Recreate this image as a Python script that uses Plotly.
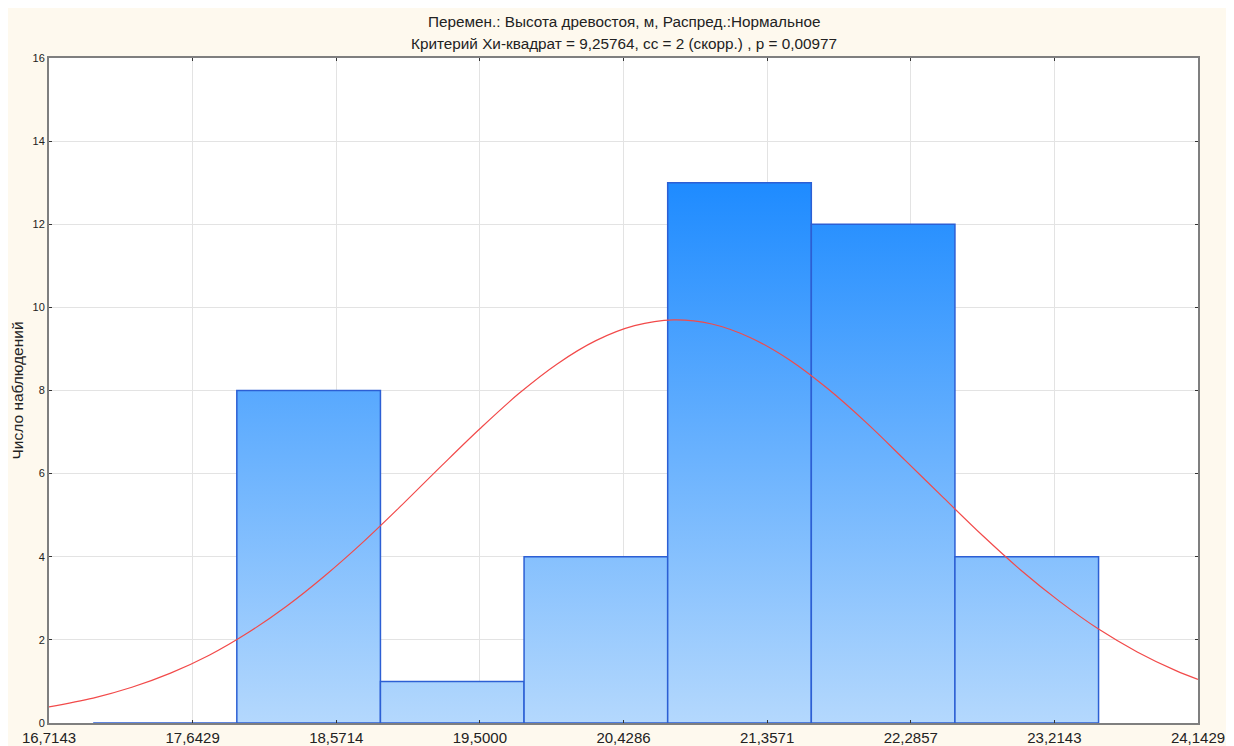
import plotly.graph_objects as go

# ---- data ----
bin_left = [17.0, 17.9286, 18.8571, 19.7857, 20.7143, 21.6429, 22.5714]
bin_width = 0.92857
counts = [0, 8, 1, 4, 13, 12, 4]

curve_x = [16.7143, 17.0, 17.25, 17.5, 17.75, 18.0, 18.25, 18.5, 18.75, 19.0,
           19.25, 19.5, 19.75, 20.0, 20.25, 20.5, 20.75, 21.0, 21.25, 21.5,
           21.75, 22.0, 22.25, 22.5, 22.75, 23.0, 23.25, 23.5, 23.75, 24.0, 24.1429]
curve_y = [0.39, 0.60, 0.86, 1.20, 1.63, 2.17, 2.81, 3.55, 4.37, 5.26,
           6.18, 7.08, 7.92, 8.64, 9.20, 9.56, 9.70, 9.60, 9.27, 8.74,
           8.04, 7.22, 6.32, 5.41, 4.51, 3.67, 2.92, 2.26, 1.71, 1.26, 1.05]

x_ticks = [16.7143, 17.6429, 18.5714, 19.5000, 20.4286, 21.3571, 22.2857, 23.2143, 24.1429]
x_tick_text = ["16,7143", "17,6429", "18,5714", "19,5000", "20,4286", "21,3571",
               "22,2857", "23,2143", "24,1429"]

title1 = "Перемен.: Высота древостоя, м, Распред.:Нормальное"
title2 = "Критерий Хи-квадрат = 9,25764, сс = 2 (скорр.) , p = 0,00977"
y_title = "Число наблюдений"

FONT = "Liberation Sans, Arial, sans-serif"
W, H = 1234, 746
L, R, T, B = 49, 36, 58, 23

fig = go.Figure()

top = max(counts)
for left, c in zip(bin_left, counts):
    right = left + bin_width
    fig.add_trace(go.Scatter(
        x=[left, left, right, right, left],
        y=[0, c, c, 0, 0],
        mode="lines",
        fill="toself",
        fillgradient=dict(type="vertical", start=0, stop=top,
                          colorscale=[[0, "#B4D8FD"], [1, "#1E8BFF"]]),
        line=dict(color="#2C5FD4", width=1.5),
        hoverinfo="skip",
        showlegend=False,
    ))

fig.add_trace(go.Scatter(
    x=curve_x, y=curve_y, mode="lines",
    line=dict(color="#F24A4A", width=1.2, shape="spline"),
    hoverinfo="skip", showlegend=False,
))

pw = W - L - R
ph = H - T - B
fig.add_shape(type="rect", xref="paper", yref="paper",
              x0=(8 - L) / pw, x1=(1226 - L) / pw,
              y0=-(B + 5) / ph, y1=1 + (T - 8) / ph,
              fillcolor="#FEF9EE", line=dict(width=0), layer="below")
fig.add_shape(type="rect", xref="paper", yref="paper",
              x0=0, x1=1, y0=0, y1=1,
              fillcolor="white", line=dict(width=0), layer="below")

fig.add_annotation(text=title1, xref="paper", yref="paper", x=0.5, y=1,
                   xanchor="center", yanchor="middle", yshift=37, showarrow=False,
                   font=dict(family=FONT, size=15.3, color="#222222"))
fig.add_annotation(text=title2, xref="paper", yref="paper", x=0.5, y=1,
                   xanchor="center", yanchor="middle", yshift=15, showarrow=False,
                   font=dict(family=FONT, size=15.3, color="#222222"))
fig.add_annotation(text=y_title, xref="paper", yref="paper", x=0, y=0.5,
                   xanchor="center", yanchor="middle", xshift=-32, textangle=-90,
                   showarrow=False, font=dict(family=FONT, size=15.5, color="#222222"))

fig.update_layout(
    width=W, height=H,
    margin=dict(l=L, r=R, t=T, b=B, pad=0, autoexpand=False),
    paper_bgcolor="white",
    plot_bgcolor="rgba(0,0,0,0)",
    showlegend=False,
    font=dict(family=FONT, color="#222222"),
)
fig.update_xaxes(
    range=[x_ticks[0], x_ticks[-1]], automargin=False,
    tickmode="array", tickvals=x_ticks, ticktext=x_tick_text,
    tickfont=dict(family=FONT, size=15, color="#222222"),
    showgrid=True, gridcolor="#E3E3E3", gridwidth=1,
    showline=True, linecolor="#7F7F7F", linewidth=2, mirror="allticks",
    ticks="inside", ticklen=3, tickcolor="#333333",
    zeroline=False,
)
fig.update_yaxes(
    range=[0, 16], tickmode="linear", tick0=0, dtick=2, automargin=False,
    tickfont=dict(family=FONT, size=11, color="#222222"),
    showgrid=True, gridcolor="#E3E3E3", gridwidth=1,
    showline=True, linecolor="#7F7F7F", linewidth=2, mirror="allticks",
    ticks="inside", ticklen=3, tickcolor="#333333",
    zeroline=False,
)

fig.write_html("out.html")
